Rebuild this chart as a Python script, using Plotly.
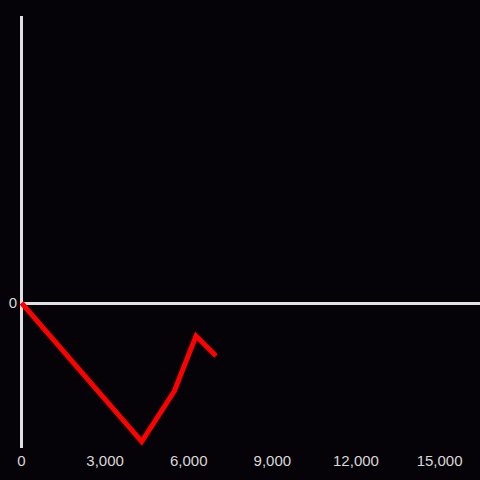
import plotly.graph_objects as go

# Data
x_vals = [0, 4313, 5483, 6261, 6979]
y_vals = [0, -1387, -880, -330, -530]
x_ticks = [0, 3000, 6000, 9000, 12000, 15000]
x_tick_labels = ["0", "3,000", "6,000", "9,000", "12,000", "15,000"]

fig = go.Figure(
    go.Scatter(
        x=x_vals, y=y_vals, mode="lines",
        line=dict(color="#ff0000", width=5),
        hoverinfo="skip",
    )
)

fig.update_layout(
    width=480, height=480,
    margin=dict(l=20, r=0, t=16, b=32),
    paper_bgcolor="#050307",
    plot_bgcolor="#050307",
    showlegend=False,
    font=dict(family="Liberation Sans, Arial, sans-serif", size=15, color="#d8d8d8"),
)
fig.update_xaxes(
    range=[-54, 16450],
    tickvals=x_ticks, ticktext=x_tick_labels,
    showgrid=False, showline=False,
    zeroline=True, zerolinecolor="#e0e0e0", zerolinewidth=3,
    ticklabelstandoff=2,
    automargin=False,
)
fig.update_yaxes(
    range=[-1450, 2870],
    tickvals=[0], ticktext=["0"],
    showgrid=False, showline=False,
    zeroline=True, zerolinecolor="#e0e0e0", zerolinewidth=3,
    ticklabelstandoff=2,
    automargin=False,
)

fig.write_html(
    "out.html",
    config={"displayModeBar": False},
    post_script="document.body.style.margin='0';document.body.style.background='#050307';",
)
